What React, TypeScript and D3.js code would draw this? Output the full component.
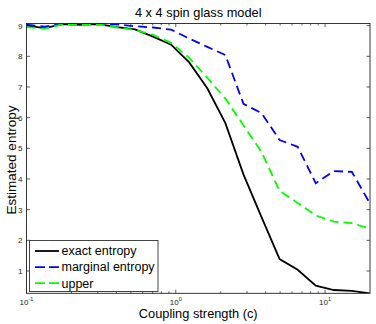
import React from "react";
import * as d3 from "d3";

const N = 20;
const couplingExp = d3.range(N).map((i) => -1 + (i * Math.log10(200)) / (N - 1));
const coupling = couplingExp.map((e) => Math.pow(10, e));

const exactEntropy = [9.0, 8.92, 9.05, 9.03, 9.05, 8.95, 8.88, 8.64, 8.38, 7.8, 6.96, 5.82, 4.15, 2.76, 1.39, 1.04, 0.52, 0.38, 0.35, 0.27];
const marginalEntropy = [9.03, 8.97, 9.06, 9.06, 9.06, 9.04, 8.98, 8.94, 8.87, 8.58, 8.31, 8.04, 6.45, 6.15, 5.27, 5.05, 3.86, 4.26, 4.23, 3.2];
const upperEntropy = [8.95, 8.9, 9.05, 9.02, 9.04, 8.94, 8.86, 8.7, 8.44, 7.95, 7.3, 6.62, 5.75, 4.88, 3.61, 3.22, 2.81, 2.61, 2.56, 2.38];

const seriesNames = ["exact entropy", "marginal entropy", "upper"];
const seriesColors = ["#000000", "#0000ff", "#00ff00"];
const seriesDash = [null, "9,5", "9,5"];
const yTicks = [1, 2, 3, 4, 5, 6, 7, 8, 9];
const xMajor = [0.1, 1, 10];

const W = 376, H = 324;
const L = 26.5, R = 370, T = 23.5, B = 293.3;

export default function App() {
  const x = d3.scaleLog().domain([0.1, 20]).range([L, R]);
  const y = d3.scaleLinear().domain([0.273, 9.07]).range([B, T]);
  const all = [exactEntropy, marginalEntropy, upperEntropy];
  const line = d3
    .line<number>()
    .x((_, i) => x(coupling[i]))
    .y((d) => y(d));
  const minor: number[] = [];
  [0.1, 1, 10].forEach((dec) => {
    for (let k = 2; k <= 9; k++) {
      const v = dec * k;
      if (v < 20) minor.push(v);
    }
  });
  const font = "'Liberation Sans', Arial, Helvetica, sans-serif";
  return (
    <svg width={W} height={H} style={{ position: "absolute", left: 0, top: 0, background: "#fff" }} fontFamily={font}>
      <rect x={0} y={0} width={W} height={H} fill="#fff" />
      <defs>
        <clipPath id="plotclip">
          <rect x={L} y={T} width={R - L} height={B - T} />
        </clipPath>
      </defs>
      <g stroke="#333" strokeWidth={0.8}>
        {yTicks.map((t) => (
          <g key={"yt" + t}>
            <line x1={L} x2={L + 3.5} y1={y(t)} y2={y(t)} />
            <line x1={R} x2={R - 3.5} y1={y(t)} y2={y(t)} />
          </g>
        ))}
        {xMajor.map((t) => (
          <g key={"xm" + t}>
            <line x1={x(t)} x2={x(t)} y1={B} y2={B - 3.5} />
            <line x1={x(t)} x2={x(t)} y1={T} y2={T + 3.5} />
          </g>
        ))}
        {minor.map((t) => (
          <g key={"xn" + t}>
            <line x1={x(t)} x2={x(t)} y1={B} y2={B - 2} />
            <line x1={x(t)} x2={x(t)} y1={T} y2={T + 2} />
          </g>
        ))}
      </g>
      <g clipPath="url(#plotclip)">
        {all.map((s, i) => (
          <path
            key={seriesNames[i]}
            d={line(s) || ""}
            fill="none"
            stroke={seriesColors[i]}
            strokeWidth={1.8}
            strokeDasharray={seriesDash[i] || undefined}
          />
        ))}
      </g>
      <rect x={L} y={T} width={R - L} height={B - T} fill="none" stroke="#222" strokeWidth={0.9} />
      <g fontSize={8} fill="#222" textAnchor="end">
        {yTicks.map((t) => (
          <text key={"yl" + t} x={L - 4} y={y(t) + 3}>
            {t}
          </text>
        ))}
      </g>
      <g fontSize={8} fill="#222">
        {xMajor.map((t) => {
          const e = Math.round(Math.log10(t));
          return (
            <text key={"xl" + t} x={x(t)} y={B + 12} textAnchor="middle">
              10<tspan fontSize={5.5} dy={-4}>{e}</tspan>
            </text>
          );
        })}
      </g>
      <g>
        <rect x={29.5} y={240.5} width={128.5} height={51} fill="#fff" stroke="#333" strokeWidth={0.9} />
        {seriesNames.map((n, i) => {
          const ly = 251 + i * 16.1;
          return (
            <g key={"lg" + n}>
              <line x1={35} x2={59} y1={ly} y2={ly} stroke={seriesColors[i]} strokeWidth={1.8} strokeDasharray={seriesDash[i] ? "10,4" : undefined} />
              <text x={61.5} y={ly + 4.3} fontSize={12.5} fill="#000">
                {n}
              </text>
            </g>
          );
        })}
      </g>
      <text x={(L + R) / 2} y={17} textAnchor="middle" fontSize={12.8} fill="#000">
        4 x 4 spin glass model
      </text>
      <text x={(L + R) / 2} y={318} textAnchor="middle" fontSize={12.8} fill="#000">
        Coupling strength (c)
      </text>
      <text transform={`translate(15.5, ${160}) rotate(-90)`} textAnchor="middle" fontSize={13.5} fill="#000">
        Estimated entropy
      </text>
    </svg>
  );
}
